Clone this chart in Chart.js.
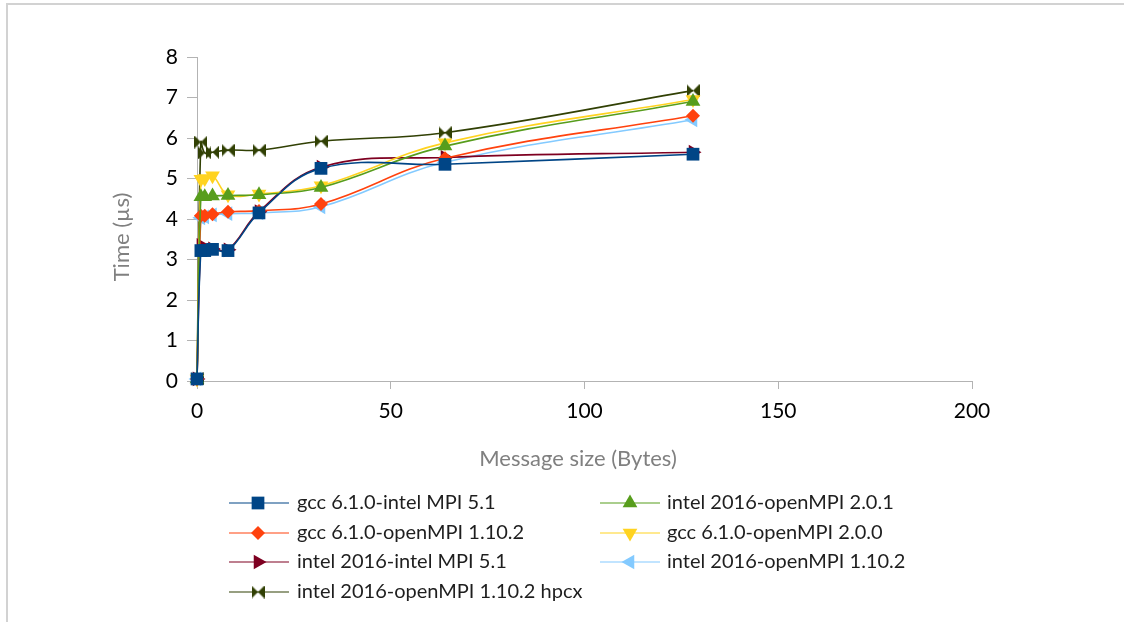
<!DOCTYPE html>
<html>
<head>
<meta charset="utf-8">
<script src="https://cdn.jsdelivr.net/npm/chart.js@4/dist/chart.umd.min.js"></script>
<style>
  html, body { margin: 0; padding: 0; background: #ffffff; }
  #wrap { width: 1124px; height: 622px; position: relative; }
</style>
</head>
<body>
<div id="wrap"><canvas id="c" width="1124" height="622"></canvas></div>
<script>
// Message sizes (bytes) shared by every series
const messageSizes = [0, 1, 2, 4, 8, 16, 32, 64, 128];

// Latency in microseconds per compiler / MPI combination
const gccIntelMpi51        = [0.05, 3.22, 3.22, 3.25, 3.22, 4.15, 5.25, 5.35, 5.60];
const intelOpenMpi201      = [0.05, 4.55, 4.55, 4.57, 4.58, 4.60, 4.78, 5.80, 6.90];
const gccOpenMpi1102       = [0.05, 4.08, 4.08, 4.12, 4.18, 4.20, 4.37, 5.50, 6.55];
const gccOpenMpi200        = [0.05, 4.98, 5.00, 5.07, 4.60, 4.62, 4.82, 5.88, 6.95];
const intelIntelMpi51      = [0.05, 3.35, 3.25, 3.26, 3.24, 4.18, 5.28, 5.52, 5.65];
const intelOpenMpi1102     = [0.05, 4.03, 4.05, 4.10, 4.13, 4.15, 4.30, 5.40, 6.45];
const intelOpenMpi1102Hpcx = [0.05, 5.90, 5.63, 5.65, 5.70, 5.70, 5.92, 6.13, 7.17];

const seriesLabels = [
  'gcc 6.1.0-intel MPI 5.1',
  'intel 2016-openMPI 2.0.1',
  'gcc 6.1.0-openMPI 1.10.2',
  'gcc 6.1.0-openMPI 2.0.0',
  'intel 2016-intel MPI 5.1',
  'intel 2016-openMPI 1.10.2',
  'intel 2016-openMPI 1.10.2 hpcx'
];
const seriesValues = [
  gccIntelMpi51, intelOpenMpi201, gccOpenMpi1102, gccOpenMpi200,
  intelIntelMpi51, intelOpenMpi1102, intelOpenMpi1102Hpcx
];

const xAxisTitle = 'Message size (Bytes)';
const yAxisTitle = 'Time (\u00b5s)';

// Bow-tie marker used by the hpcx series
function makeBowtie(color) {
  const cv = document.createElement('canvas');
  cv.width = 13; cv.height = 13;
  const g = cv.getContext('2d');
  g.fillStyle = color;
  g.beginPath();
  g.moveTo(0, 0); g.lineTo(6.5, 6.5); g.lineTo(0, 13); g.closePath();
  g.moveTo(13, 0); g.lineTo(6.5, 6.5); g.lineTo(13, 13); g.closePath();
  g.fill();
  return cv;
}

const styles = [
  { color: '#004586', pointStyle: 'rect',     radius: 9,   rotation: 0 },
  { color: '#579d1c', pointStyle: 'triangle', radius: 8.5, rotation: 0 },
  { color: '#ff420e', pointStyle: 'rectRot',  radius: 7,   rotation: 0 },
  { color: '#ffd320', pointStyle: 'triangle', radius: 8.5, rotation: 180 },
  { color: '#7e0021', pointStyle: 'triangle', radius: 8.5, rotation: 90 },
  { color: '#83caff', pointStyle: 'triangle', radius: 8.5, rotation: 270 },
  { color: '#314004', pointStyle: null,       radius: 7,   rotation: 0 }
];
styles[6].pointStyle = makeBowtie(styles[6].color);

const datasets = seriesValues.map((vals, i) => ({
  label: seriesLabels[i],
  data: messageSizes.map((x, k) => ({ x: x, y: vals[k] })),
  showLine: true,
  clip: 12,
  borderColor: styles[i].color,
  backgroundColor: styles[i].color,
  borderWidth: 1.6,
  tension: 0.4,
  pointStyle: styles[i].pointStyle,
  pointRadius: styles[i].radius,
  pointRotation: styles[i].rotation,
  pointBorderWidth: 0,
  pointBackgroundColor: styles[i].color,
  pointBorderColor: styles[i].color
}));

// Legend marker drawing (two columns under the plot)
function drawMarker(ctx, st, x, y) {
  const r = st.radius;
  ctx.save();
  ctx.fillStyle = st.color;
  if (st.pointStyle instanceof HTMLCanvasElement) {
    ctx.drawImage(st.pointStyle, x - st.pointStyle.width / 2, y - st.pointStyle.height / 2);
    ctx.restore();
    return;
  }
  ctx.translate(x, y);
  ctx.beginPath();
  if (st.pointStyle === 'rect') {
    const s = Math.SQRT1_2 * r;
    ctx.rect(-s, -s, 2 * s, 2 * s);
  } else if (st.pointStyle === 'rectRot') {
    ctx.moveTo(-r, 0); ctx.lineTo(0, -r); ctx.lineTo(r, 0); ctx.lineTo(0, r); ctx.closePath();
  } else {
    ctx.rotate(st.rotation * Math.PI / 180);
    for (let k = 0; k < 3; k++) {
      const a = k * 2 * Math.PI / 3;
      const px = Math.sin(a) * r, py = -Math.cos(a) * r;
      if (k === 0) ctx.moveTo(px, py); else ctx.lineTo(px, py);
    }
    ctx.closePath();
  }
  ctx.fill();
  ctx.restore();
}

const decorations = {
  id: 'decorations',
  beforeDraw(chart) {
    const ctx = chart.ctx;
    ctx.save();
    ctx.strokeStyle = '#d2d2d2';
    ctx.lineWidth = 2;
    ctx.strokeRect(7, 4, 1140, 660);
    ctx.restore();
  },
  afterDraw(chart) {
    const ctx = chart.ctx;
    // axis titles
    ctx.save();
    ctx.fillStyle = '#808080';
    ctx.font = '22px Lato';
    ctx.textAlign = 'center';
    ctx.textBaseline = 'middle';
    ctx.fillText(xAxisTitle, 578, 459);
    ctx.translate(122, 237);
    ctx.rotate(-Math.PI / 2);
    ctx.fillText(yAxisTitle, 0, 0);
    ctx.restore();

    // legend
    const cols = [
      { l0: 229, l1: 289, m: 258, t: 297 },
      { l0: 600, l1: 660, m: 630, t: 667 }
    ];
    chart.data.datasets.forEach((ds, i) => {
      const c = cols[i % 2];
      const y = 503 + Math.floor(i / 2) * 29.5;
      const yl = Math.round(y);
      ctx.save();
      ctx.strokeStyle = styles[i].color;
      ctx.lineWidth = 1.2;
      ctx.beginPath();
      ctx.moveTo(c.l0, yl); ctx.lineTo(c.l1, yl);
      ctx.stroke();
      ctx.restore();
      drawMarker(ctx, styles[i], c.m, yl);
      ctx.save();
      ctx.fillStyle = '#1e1e1e';
      ctx.font = '20px Lato';
      ctx.textAlign = 'left';
      ctx.textBaseline = 'middle';
      ctx.fillText(ds.label, c.t, yl);
      ctx.restore();
    });
  }
};

new Chart(document.getElementById('c'), {
  type: 'scatter',
  data: { datasets: datasets },
  plugins: [decorations],
  options: {
    responsive: false,
    animation: false,
    devicePixelRatio: 1,
    layout: { padding: { top: 57, right: 152, bottom: 151, left: 0 } },
    plugins: { legend: { display: false }, tooltip: { enabled: false } },
    elements: { line: { cubicInterpolationMode: 'default' } },
    scales: {
      x: {
        type: 'linear',
        min: 0, max: 200,
        ticks: { stepSize: 50, color: '#000000', font: { family: 'Lato', size: 21 }, padding: 10, maxRotation: 0 },
        grid: { drawOnChartArea: false, drawTicks: true, tickLength: 8, tickColor: '#b3b3b3' },
        border: { color: '#b3b3b3', width: 1 },
        afterFit(scale) { scale.height = 90; }
      },
      y: {
        type: 'linear',
        min: 0, max: 8,
        ticks: { stepSize: 1, color: '#000000', font: { family: 'Lato', size: 21 }, padding: 9 },
        grid: { drawOnChartArea: false, drawTicks: true, tickLength: 10, tickColor: '#b3b3b3' },
        border: { color: '#b3b3b3', width: 1 },
        afterFit(scale) { scale.width = 197; }
      }
    }
  }
});
</script>
</body>
</html>
